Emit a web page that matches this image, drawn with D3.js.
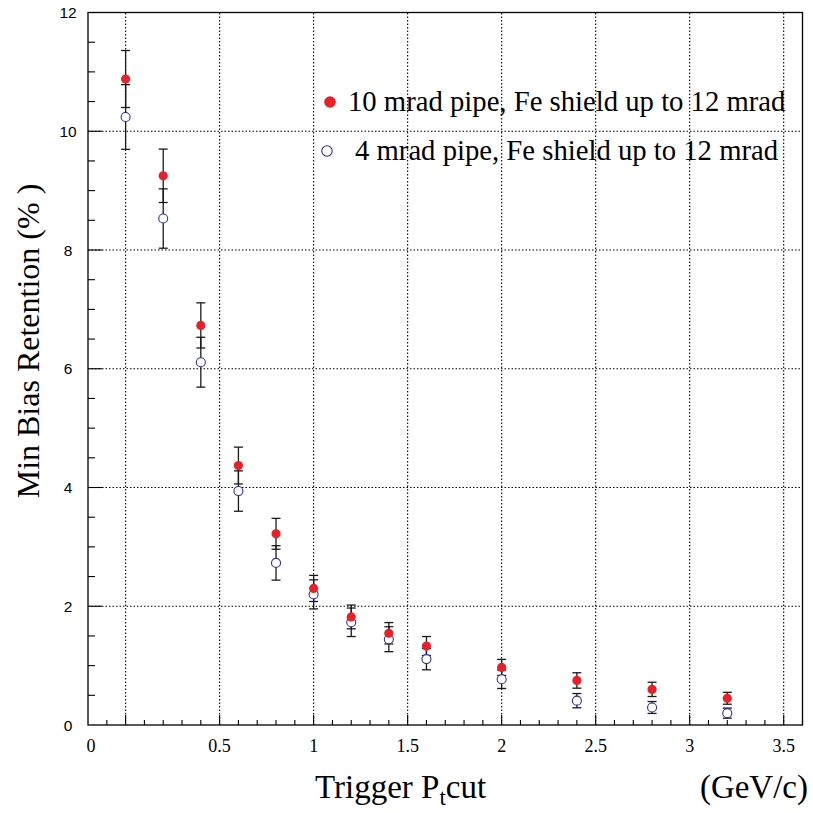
<!DOCTYPE html>
<html>
<head>
<meta charset="utf-8">
<script src="https://cdn.jsdelivr.net/npm/d3@7"></script>
<style>
  html, body { margin: 0; padding: 0; background: #fff; }
  svg { display: block; }
</style>
</head>
<body>
<div id="chart"></div>
<script>
// Trigger Pt cut values (GeV/c)
const ptCut = [0.0, 0.2, 0.4, 0.6, 0.8, 1.0, 1.2, 1.4, 1.6, 2.0, 2.4, 2.8, 3.2];

// 10 mrad pipe, Fe shield up to 12 mrad
const pipe10 = [10.88, 9.25, 6.73, 4.37, 3.22, 2.30, 1.82, 1.545, 1.33, 0.97, 0.75, 0.60, 0.45];
const pipe10Err = [0.48, 0.45, 0.38, 0.31, 0.26, 0.22, 0.20, 0.18, 0.16, 0.135, 0.13, 0.12, 0.10];

// 4 mrad pipe, Fe shield up to 12 mrad
const pipe4 = [10.24, 8.53, 6.11, 3.94, 2.73, 2.20, 1.73, 1.445, 1.11, 0.77, 0.41, 0.295, 0.20];
const pipe4Err = [0.545, 0.50, 0.42, 0.34, 0.29, 0.245, 0.24, 0.21, 0.18, 0.155, 0.12, 0.10, 0.085];

const legendLabels = ["10 mrad pipe, Fe shield up to 12 mrad", "4 mrad pipe, Fe shield up to 12 mrad"];
const xTickLabels = [0, 0.5, 1, 1.5, 2, 2.5, 3, 3.5];
const yTickLabels = [0, 2, 4, 6, 8, 10, 12];

const W = 813, H = 813;
const svg = d3.select("#chart").append("svg").attr("width", W).attr("height", H);

const x = d3.scaleLinear().domain([-0.2, 3.6]).range([88, 802.5]);
const y = d3.scaleLinear().domain([0, 12]).range([725, 12.5]);

const serif = "'Liberation Serif', 'Times New Roman', serif";
const sans = "'Liberation Sans', Arial, Helvetica, sans-serif";
const RED = "#e8202a", BLUE = "#2e2ea0";

// dotted grid
const grid = svg.append("g").attr("stroke", "#000").attr("stroke-width", 1.1)
  .attr("stroke-dasharray", "1.5,2");
grid.selectAll("line.gx").data(xTickLabels).enter().append("line")
  .attr("x1", d => x(d)).attr("x2", d => x(d))
  .attr("y1", y(0)).attr("y2", y(12));
grid.selectAll("line.gy").data(yTickLabels.filter(d => d > 0 && d < 12)).enter().append("line")
  .attr("x1", x(-0.2)).attr("x2", x(3.6))
  .attr("y1", d => y(d)).attr("y2", d => y(d));

// frame
svg.append("rect")
  .attr("x", x(-0.2)).attr("y", y(12))
  .attr("width", x(3.6) - x(-0.2)).attr("height", y(0) - y(12))
  .attr("fill", "none").attr("stroke", "#000").attr("stroke-width", 1.3);

// ticks: x minor every 0.1, major every 0.5
const xt = d3.range(-1, 37).map(i => +(i / 10).toFixed(1));
svg.append("g").attr("stroke", "#000").attr("stroke-width", 1.1)
  .selectAll("line").data(xt).enter().append("line")
  .attr("x1", d => x(d)).attr("x2", d => x(d))
  .attr("y1", y(0))
  .attr("y2", d => y(0) - (Math.abs(d * 2 - Math.round(d * 2)) < 1e-6 ? 10 : 5));

// y minor every 0.5, major every 2
const yt = d3.range(1, 24).map(i => i / 2);
svg.append("g").attr("stroke", "#000").attr("stroke-width", 1.1)
  .selectAll("line").data(yt).enter().append("line")
  .attr("y1", d => y(d)).attr("y2", d => y(d))
  .attr("x1", x(-0.2))
  .attr("x2", d => x(-0.2) + (d % 2 === 0 ? 14 : 7));

// tick labels
svg.append("g").selectAll("text").data(xTickLabels).enter().append("text")
  .attr("x", d => d === 0 ? x(-0.2) + 3 : x(d))
  .attr("y", 752)
  .attr("text-anchor", "middle")
  .attr("font-family", serif).attr("font-size", 18)
  .text(d => d);

svg.append("g").selectAll("text").data(yTickLabels).enter().append("text")
  .attr("x", 68)
  .attr("y", d => y(d))
  .attr("dy", "0.36em")
  .attr("text-anchor", "middle")
  .attr("font-family", sans).attr("font-size", 15.5)
  .text(d => d);

// axis titles
const xt1 = svg.append("text")
  .attr("x", 315).attr("y", 798)
  .attr("font-family", serif).attr("font-size", 33);
xt1.append("tspan").text("Trigger P");
xt1.append("tspan").attr("font-size", 23).attr("dy", 7).text("t");
xt1.append("tspan").attr("dy", -7).text("cut");

svg.append("text")
  .attr("x", 808).attr("y", 798)
  .attr("text-anchor", "end")
  .attr("font-family", serif).attr("font-size", 33)
  .text("(GeV/c)");

svg.append("text")
  .attr("transform", "translate(39,341) rotate(-90)")
  .attr("text-anchor", "middle")
  .attr("font-family", serif).attr("font-size", 32)
  .text("Min Bias Retention (% )");

// error bars
function errorBars(vals, errs) {
  const g = svg.append("g").attr("stroke", "#1a1a1a").attr("stroke-width", 1.3);
  const rows = ptCut.map((p, i) => ({ p, v: vals[i], e: errs[i] }));
  g.selectAll("line.v").data(rows).enter().append("line")
    .attr("x1", d => x(d.p)).attr("x2", d => x(d.p))
    .attr("y1", d => y(d.v - d.e)).attr("y2", d => y(d.v + d.e));
  ["lo", "hi"].forEach(k => {
    g.selectAll("line." + k).data(rows).enter().append("line")
      .attr("x1", d => x(d.p) - 4.5).attr("x2", d => x(d.p) + 4.5)
      .attr("y1", d => y(k === "lo" ? d.v - d.e : d.v + d.e))
      .attr("y2", d => y(k === "lo" ? d.v - d.e : d.v + d.e));
  });
}
errorBars(pipe10, pipe10Err);
errorBars(pipe4, pipe4Err);

// markers
svg.append("g").selectAll("circle").data(ptCut).enter().append("circle")
  .attr("cx", d => x(d)).attr("cy", (d, i) => y(pipe4[i]))
  .attr("r", 4.5).attr("fill", "#fff").attr("stroke", BLUE).attr("stroke-width", 1.1);
svg.append("g").selectAll("circle").data(ptCut).enter().append("circle")
  .attr("cx", d => x(d)).attr("cy", (d, i) => y(pipe10[i]))
  .attr("r", 4.6).attr("fill", RED);

// legend
const lg = svg.append("g");
lg.append("circle").attr("cx", 330).attr("cy", 102).attr("r", 5.8).attr("fill", RED);
lg.append("circle").attr("cx", 327).attr("cy", 151).attr("r", 5.2).attr("fill", "#fff")
  .attr("stroke", BLUE).attr("stroke-width", 1.1);
lg.append("text").attr("x", 348).attr("y", 111)
  .attr("font-family", serif).attr("font-size", 28.7).text(legendLabels[0]);
lg.append("text").attr("x", 355).attr("y", 160)
  .attr("font-family", serif).attr("font-size", 28.7).text(legendLabels[1]);
</script>
</body>
</html>
